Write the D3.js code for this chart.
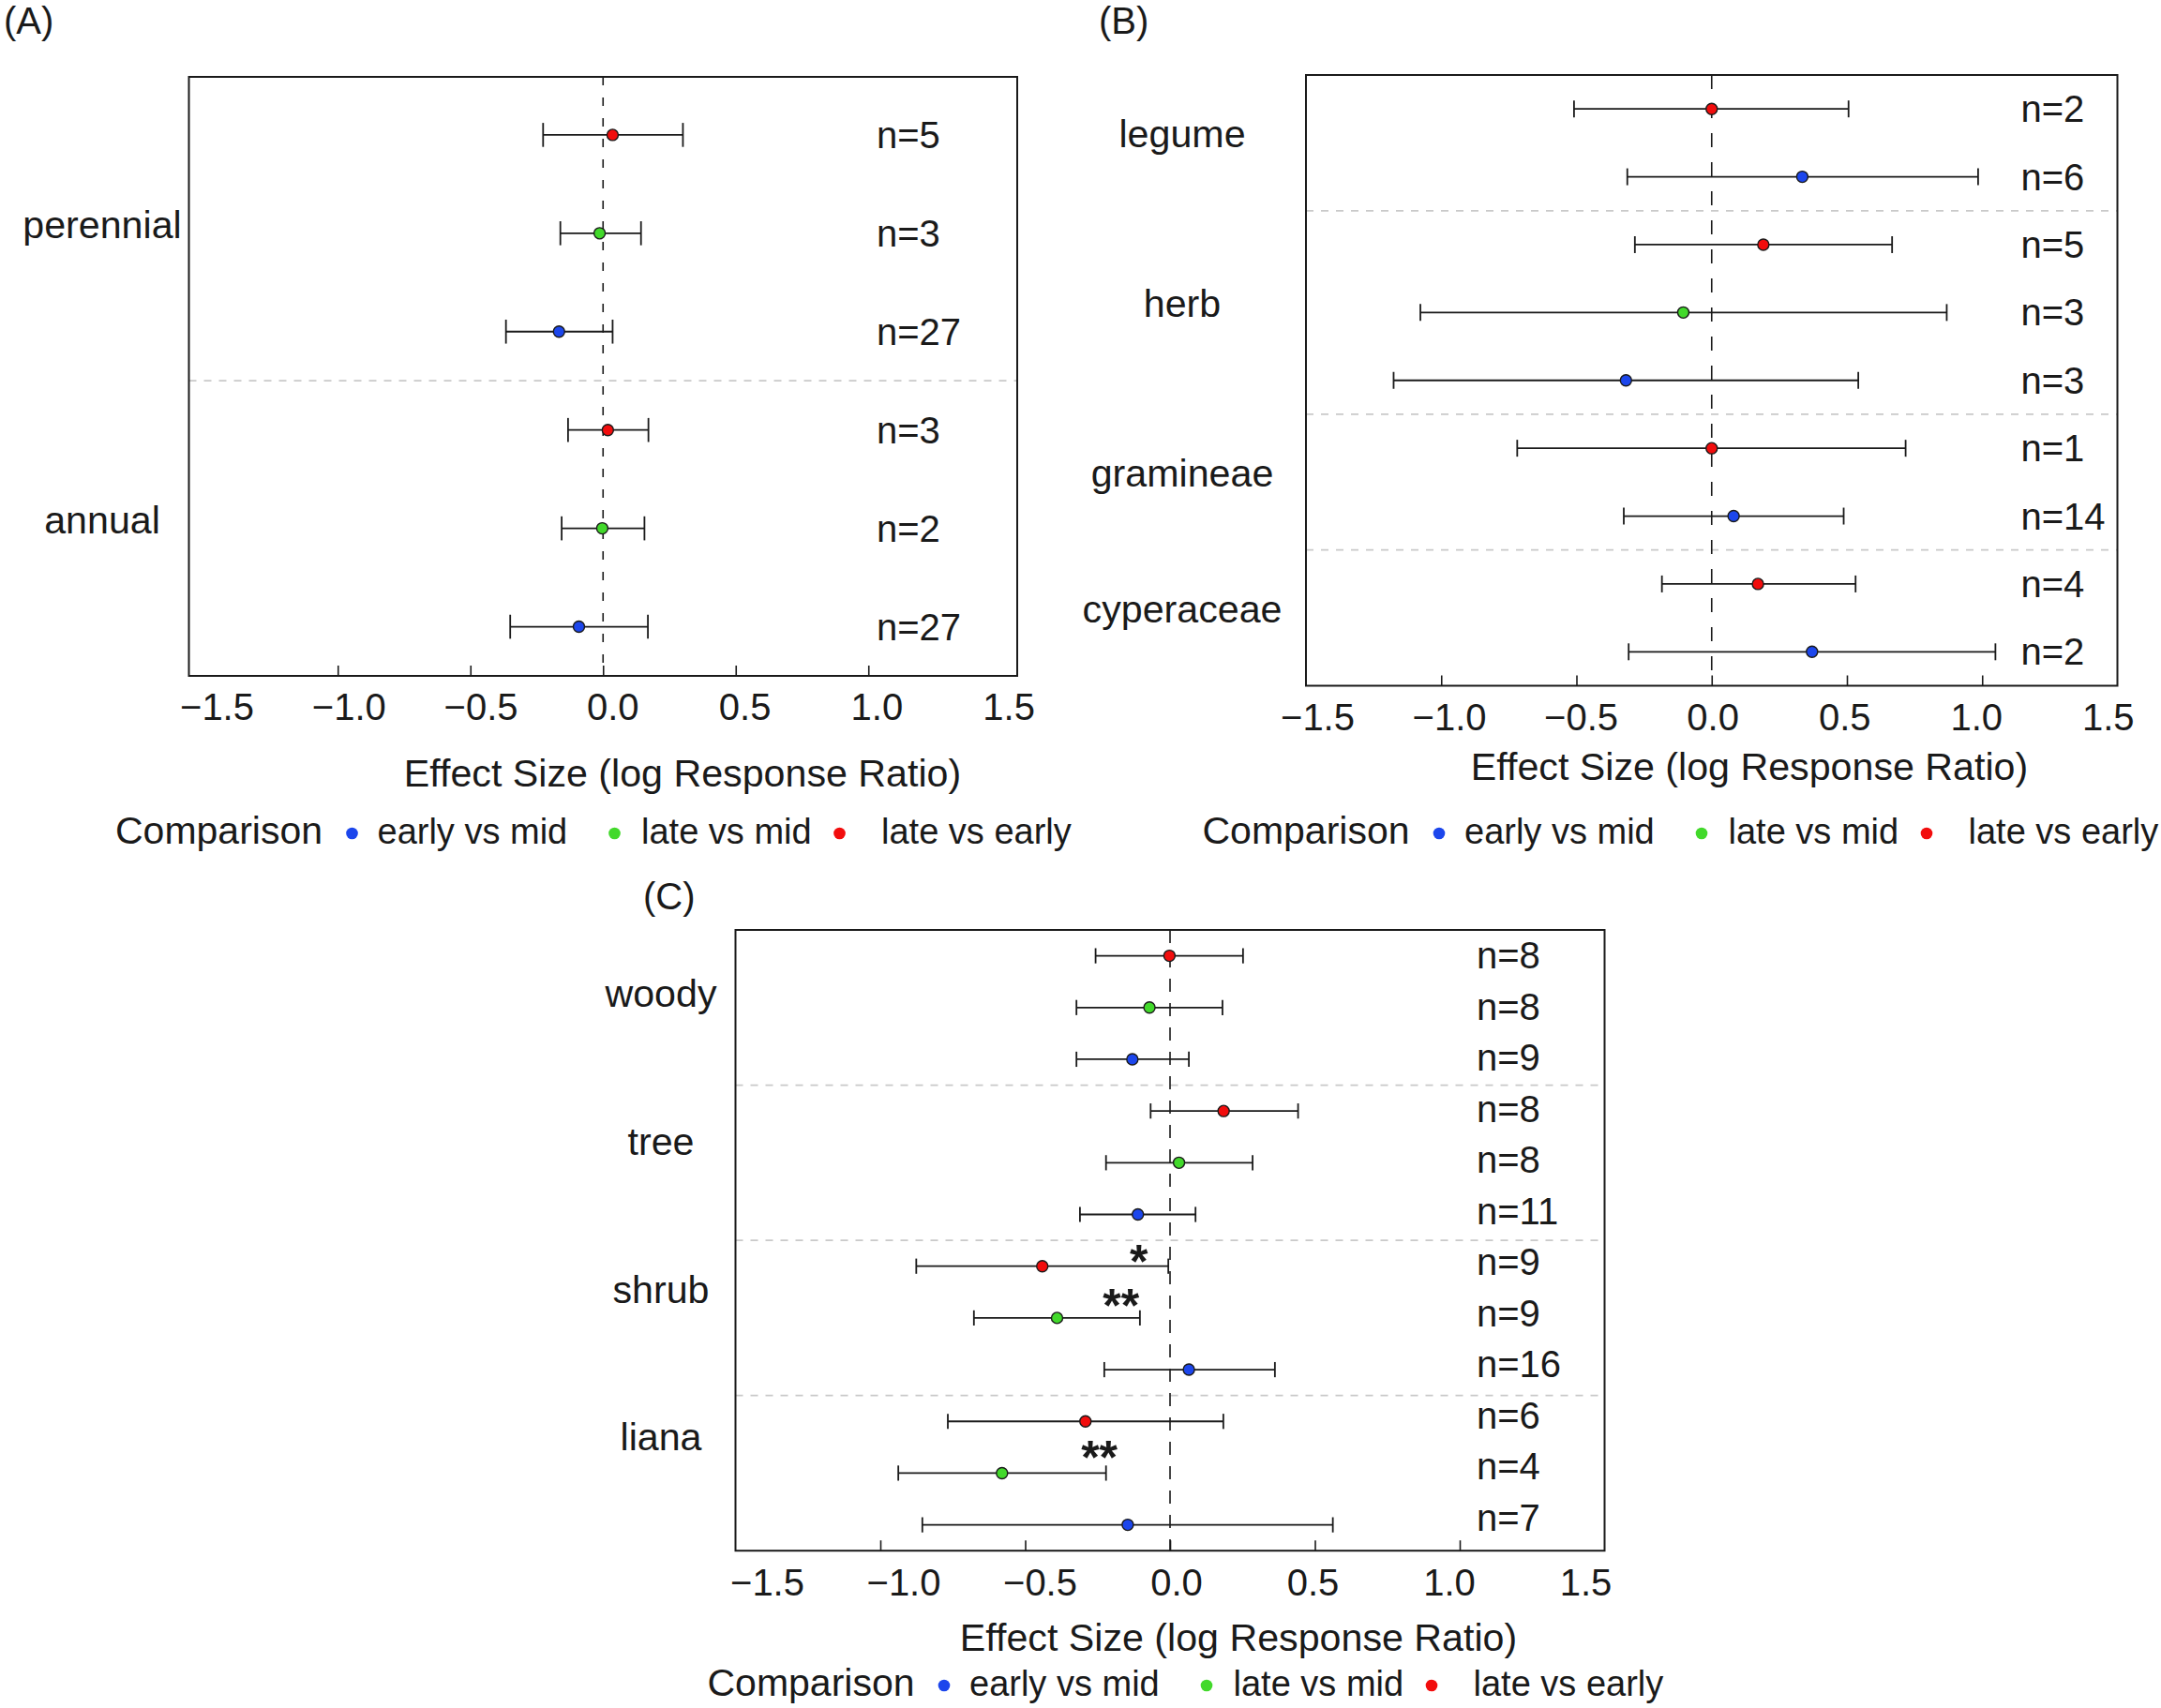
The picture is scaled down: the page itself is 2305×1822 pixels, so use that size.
<!DOCTYPE html>
<html>
<head>
<meta charset="utf-8">
<title>Effect size (log response ratio) by plant group</title>
<script src="https://cdn.jsdelivr.net/npm/d3@7/dist/d3.min.js"></script>
<style>
	body { margin: 0; background: #ffffff; }
	svg { display: block; font-family: "Liberation Sans", Arial, Helvetica, sans-serif; }
</style>
</head>
<body>
<svg id="chart" width="2305" height="1822"></svg>
<script>
// ==================================
// data
// ==================================
var comparisons = ["early vs mid", "late vs mid", "late vs early"];
var tickMarks = [-1.0, -0.5, 0.0, 0.5, 1.0];
var tickLabels = [-1.5, -1.0, -0.5, 0.0, 0.5, 1.0, 1.5];

// (A) life cycle
var aGroups = ["perennial", "annual"];
var aRowGroup = ["perennial", "perennial", "perennial", "annual", "annual", "annual"];
var aRowComp = ["late vs early", "late vs mid", "early vs mid", "late vs early", "late vs mid", "early vs mid"];
var aMean  = [0.036, -0.013, -0.166, 0.018, -0.003, -0.091];
var aLower = [-0.226, -0.161, -0.366, -0.132, -0.156, -0.350];
var aUpper = [0.301, 0.143, 0.036, 0.171, 0.156, 0.169];
var aN     = [5, 3, 27, 3, 2, 27];

// (B) herbaceous groups
var bGroups = ["legume", "herb", "gramineae", "cyperaceae"];
var bRowGroup = ["legume", "legume", "herb", "herb", "herb", "gramineae", "gramineae", "cyperaceae", "cyperaceae"];
var bRowComp = ["late vs early", "early vs mid", "late vs early", "late vs mid", "early vs mid",
	"late vs early", "early vs mid", "late vs early", "early vs mid"];
var bMean  = [0.000, 0.335, 0.191, -0.105, -0.317, 0.000, 0.081, 0.171, 0.371];
var bLower = [-0.509, -0.312, -0.284, -1.077, -1.176, -0.719, -0.325, -0.184, -0.307];
var bUpper = [0.506, 0.985, 0.667, 0.869, 0.542, 0.717, 0.488, 0.532, 1.049];
var bN     = [2, 6, 5, 3, 3, 1, 14, 4, 2];

// (C) woody groups
var cGroups = ["woody", "tree", "shrub", "liana"];
var cRowGroup = ["woody", "woody", "woody", "tree", "tree", "tree",
	"shrub", "shrub", "shrub", "liana", "liana", "liana"];
var cRowComp = ["late vs early", "late vs mid", "early vs mid", "late vs early", "late vs mid", "early vs mid",
	"late vs early", "late vs mid", "early vs mid", "late vs early", "late vs mid", "early vs mid"];
var cMean  = [-0.002, -0.071, -0.130, 0.185, 0.031, -0.111, -0.441, -0.390, 0.065, -0.292, -0.580, -0.146];
var cLower = [-0.257, -0.323, -0.323, -0.067, -0.221, -0.311, -0.876, -0.677, -0.227, -0.767, -0.938, -0.855];
var cUpper = [0.252, 0.181, 0.065, 0.442, 0.285, 0.088, -0.006, -0.104, 0.362, 0.184, -0.221, 0.562];
var cN     = [8, 8, 9, 8, 8, 11, 9, 9, 16, 6, 4, 7];

// significance marks in (C): text, effect-size anchor, row anchor
var cSigText  = ["*", "**", "**"];
var cSigValue = [-0.108, -0.169, -0.244];
var cSigRow   = [6.80, 7.64, 10.585];

// ==================================
// styles
// ==================================
var color = d3.scaleOrdinal()
	.domain(comparisons)
	.range(["#1c46ec", "#42d92b", "#f20d0d"]);

var FONT = 40;
var INK = "#1a1a1a";

var svg = d3.select("#chart");
svg.append("rect").attr("width", 2305).attr("height", 1822).attr("fill", "#ffffff");

function makeRows(groups, comps, mean, lower, upper, n)
{
	var rows = [];
	for (var i = 0; i < mean.length; i++) {
		rows.push({
			row: i + 1,
			group: groups[i],
			comp: comps[i],
			mean: mean[i],
			lower: lower[i],
			upper: upper[i],
			n: n[i]
		});
	}
	return rows;
}

// ==================================
// one forest panel
// ==================================
function drawPanel(cfg, rows, groups)
{
	var g = svg.append("g").attr("class", "panel");
	var box = cfg.box;

	var x = d3.scaleLinear().domain(cfg.xDomain).range([box.x0, box.x1]);
	var y = d3.scaleLinear().domain(cfg.yDomain).range([box.y0, box.y1]);
	// the printed tick numbers sit on a slightly tighter scale than the marks
	var xLab = d3.scaleLinear().domain([-1.5, 1.5]).range(cfg.tickLabelRange);
	var labelY = d3.scaleLinear().domain(cfg.yDomain).range(cfg.labelRange);
	var nY = d3.scaleLinear().domain(cfg.yDomain).range(cfg.nRange || [box.y0, box.y1]);

	// grey dashed lines between groups
	var breaks = [];
	rows.forEach(function(r, i) {
		if (i > 0 && r.group !== rows[i - 1].group) breaks.push(r.row - 0.5);
	});
	g.selectAll("line.sep").data(breaks).enter().append("line")
		.attr("class", "sep")
		.attr("x1", box.x0).attr("x2", box.x1)
		.attr("y1", function(d) { return y(d); })
		.attr("y2", function(d) { return y(d); })
		.attr("stroke", "#c9c9c9")
		.attr("stroke-width", 1.7)
		.attr("stroke-dasharray", "8,8");

	// zero reference
	g.append("line")
		.attr("x1", x(0)).attr("x2", x(0))
		.attr("y1", box.y0).attr("y2", box.y1)
		.attr("stroke", INK)
		.attr("stroke-width", 1.6)
		.attr("stroke-dasharray", cfg.zeroDash);

	// inward tick marks, then labels
	var tickG = g.append("g")
		.attr("transform", "translate(0," + box.y1 + ")")
		.call(d3.axisBottom(x).tickValues(tickMarks).tickSize(-11).tickFormat(""));
	tickG.select(".domain").remove();
	tickG.selectAll("line").attr("stroke", INK).attr("stroke-width", 1.6);

	var labG = g.append("g")
		.attr("transform", "translate(0," + box.y1 + ")")
		.call(d3.axisBottom(xLab).tickValues(tickLabels).tickSize(0)
			.tickPadding(cfg.tickPad).tickFormat(d3.format(".1f")));
	labG.select(".domain").remove();
	labG.selectAll("line").remove();
	labG.attr("font-size", FONT).attr("font-family", null);
	labG.selectAll("text").attr("fill", INK);

	// error bars
	var bars = g.selectAll("g.bar").data(rows).enter().append("g").attr("class", "bar");
	bars.append("line")
		.attr("x1", function(d) { return x(d.lower); })
		.attr("x2", function(d) { return x(d.upper); })
		.attr("y1", function(d) { return y(d.row); })
		.attr("y2", function(d) { return y(d.row); })
		.attr("stroke", INK).attr("stroke-width", 1.8);
	["lower", "upper"].forEach(function(end) {
		bars.append("line")
			.attr("x1", function(d) { return x(d[end]); })
			.attr("x2", function(d) { return x(d[end]); })
			.attr("y1", function(d) { return y(d.row) - cfg.cap; })
			.attr("y2", function(d) { return y(d.row) + cfg.cap; })
			.attr("stroke", INK).attr("stroke-width", 1.8);
	});
	bars.append("circle")
		.attr("cx", function(d) { return x(d.mean); })
		.attr("cy", function(d) { return y(d.row); })
		.attr("r", 6)
		.attr("fill", function(d) { return color(d.comp); })
		.attr("stroke", INK).attr("stroke-width", 1.4);

	// sample sizes
	g.selectAll("text.n").data(rows).enter().append("text")
		.attr("class", "n")
		.attr("x", cfg.nX)
		.attr("y", function(d) { return nY(d.row); })
		.attr("dy", "0.35em")
		.attr("font-size", FONT)
		.attr("fill", INK)
		.text(function(d) { return "n=" + d.n; });

	// group names, centred on their rows
	g.selectAll("text.group").data(groups).enter().append("text")
		.attr("class", "group")
		.attr("x", cfg.labelX)
		.attr("y", function(name) {
			var mid = d3.mean(rows.filter(function(r) { return r.group === name; }), function(r) { return r.row; });
			return labelY(mid);
		})
		.attr("text-anchor", "middle")
		.attr("font-size", 41.2)
		.attr("fill", INK)
		.text(function(d) { return d; });

	// frame on top
	g.append("rect")
		.attr("x", box.x0).attr("y", box.y0)
		.attr("width", box.x1 - box.x0).attr("height", box.y1 - box.y0)
		.attr("fill", "none")
		.attr("stroke", INK).attr("stroke-width", 2);

	// axis title
	g.append("text")
		.attr("x", cfg.title.x).attr("y", cfg.title.y)
		.attr("text-anchor", "middle")
		.attr("font-size", 41.2)
		.attr("fill", INK)
		.text("Effect Size (log Response Ratio)");

	drawLegend(g, cfg.legend.x, cfg.legend.y);

	// panel tag
	g.append("text")
		.attr("x", cfg.tag.x).attr("y", cfg.tag.y)
		.attr("font-size", FONT)
		.attr("fill", INK)
		.text(cfg.tag.text);

	return { x: x, y: y, g: g };
}

// ==================================
// legend under each panel
// ==================================
function drawLegend(g, lx, ly)
{
	var DOT_OFFSETS = [252.5, 532.5, 772.5];
	var TEXT_OFFSETS = [279.5, 561, 817];

	g.append("text")
		.attr("x", lx).attr("y", ly)
		.attr("font-size", 41)
		.attr("fill", INK)
		.text("Comparison");

	comparisons.forEach(function(c, i) {
		g.append("circle")
			.attr("cx", lx + DOT_OFFSETS[i])
			.attr("cy", ly - 11)
			.attr("r", 6.3)
			.attr("fill", color(c));
		g.append("text")
			.attr("x", lx + TEXT_OFFSETS[i]).attr("y", ly)
			.attr("font-size", 38)
			.attr("fill", INK)
			.text(c);
	});
}

// ==================================
// panels
// ==================================
drawPanel({
	box: { x0: 201.5, x1: 1085, y0: 82, y1: 721 },
	xDomain: [-1.561, 1.561],
	yDomain: [0.41, 6.5],
	tickLabelRange: [231, 1075.6],
	labelRange: [87, 726],
	labelX: 109,
	nX: 935,
	cap: 12.8,
	zeroDash: "9,13",
	tickPad: 18.5,
	title: { x: 728, y: 839 },
	legend: { x: 123, y: 900 },
	tag: { text: "(A)", x: 4, y: 36 }
}, makeRows(aRowGroup, aRowComp, aMean, aLower, aUpper, aN), aGroups);

drawPanel({
	box: { x0: 1393, x1: 2258.5, y0: 80, y1: 731.5 },
	xDomain: [-1.5, 1.5],
	yDomain: [0.5, 9.5],
	tickLabelRange: [1405, 2248.3],
	labelRange: [85, 736.5],
	labelX: 1261,
	nX: 2155.5,
	cap: 9,
	zeroDash: "15,16",
	tickPad: 19.5,
	title: { x: 1866, y: 832 },
	legend: { x: 1282.5, y: 900 },
	tag: { text: "(B)", x: 1172, y: 36 }
}, makeRows(bRowGroup, bRowComp, bMean, bLower, bUpper, bN), bGroups);

var panelC = drawPanel({
	box: { x0: 784.5, x1: 1711.5, y0: 992, y1: 1654.2 },
	xDomain: [-1.5, 1.5],
	yDomain: [0.5, 12.5],
	tickLabelRange: [818, 1691],
	labelRange: [995.3, 1626.2],
	nRange: [991.8, 1646.2],
	labelX: 705,
	nX: 1575,
	cap: 8.1,
	zeroDash: "14,12",
	tickPad: 19.5,
	title: { x: 1321, y: 1761 },
	legend: { x: 754.5, y: 1809 },
	tag: { text: "(C)", x: 686, y: 970 }
}, makeRows(cRowGroup, cRowComp, cMean, cLower, cUpper, cN), cGroups);

// significance stars in (C)
panelC.g.selectAll("text.sig").data(cSigText).enter().append("text")
	.attr("class", "sig")
	.attr("x", function(d, i) { return panelC.x(cSigValue[i]); })
	.attr("y", function(d, i) { return panelC.y(cSigRow[i]); })
	.attr("dy", "0.47em")
	.attr("text-anchor", "middle")
	.attr("font-size", 50)
	.attr("font-weight", "bold")
	.attr("fill", INK)
	.text(function(d) { return d; });
</script>
</body>
</html>
